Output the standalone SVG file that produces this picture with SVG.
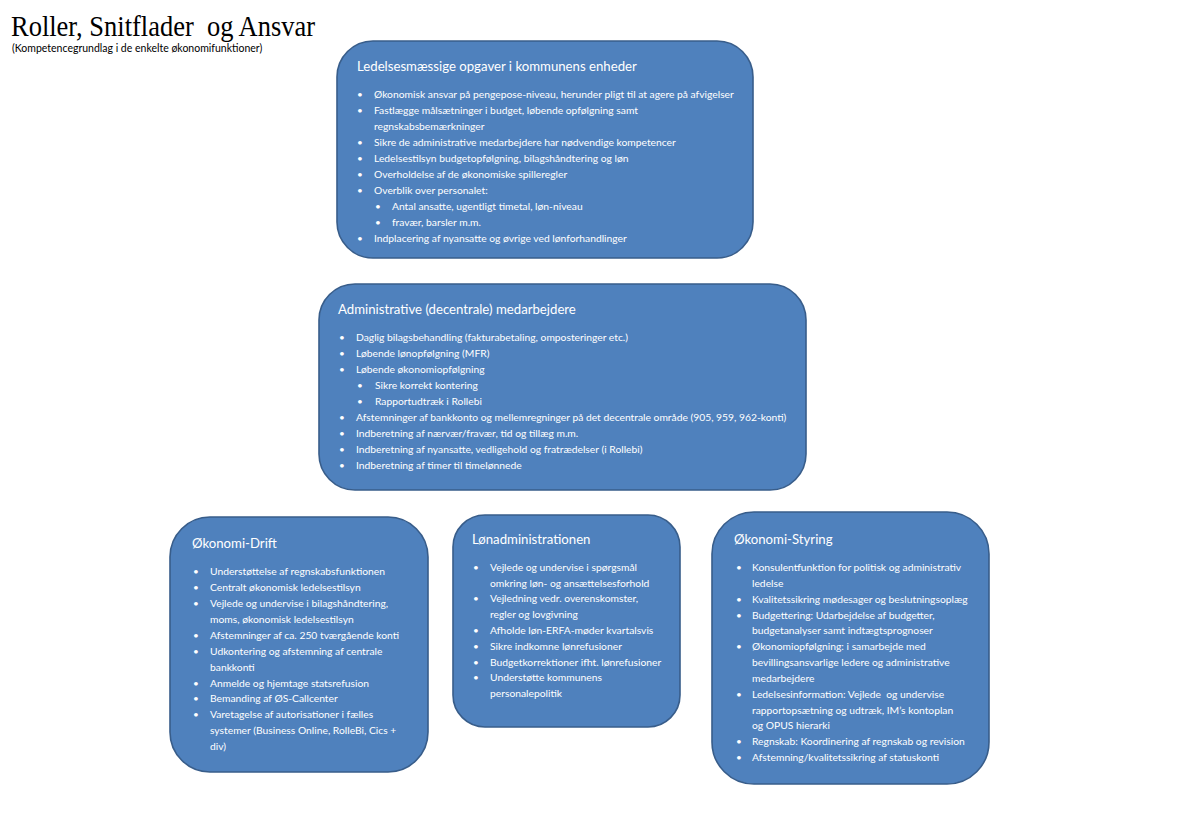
<svg xmlns="http://www.w3.org/2000/svg" width="1186" height="813" viewBox="0 0 1186 813">
<style>
.box{fill:#4f81bd;stroke:#385d8a;stroke-width:1.6}
.t{font-family:Lato,"Open Sans","Liberation Sans",sans-serif;fill:#ffffff}
.h{font-size:13.2px}
.b{font-size:10.3px}
.d{font-size:10px}
.pre{white-space:pre}
</style>
<rect width="1186" height="813" fill="#ffffff"/>
<g id="title">
<text x="11" y="36" font-family="'Liberation Serif','DejaVu Serif',serif" font-size="30" fill="#000" class="pre" textLength="304" lengthAdjust="spacingAndGlyphs">Roller, Snitflader  og Ansvar</text>
<text x="12" y="52" font-family="Lato,'Liberation Sans',sans-serif" font-size="10.5" fill="#000">(Kompetencegrundlag i de enkelte økonomifunktioner)</text>
</g>
<g id="ledelse">
<rect class="box" x="337" y="41" width="416" height="217" rx="36" ry="36"/>
<text class="t h" x="357" y="71">Ledelsesmæssige opgaver i kommunens enheder</text>
<g class="t d">
<text x="357" y="98">•</text><text x="357" y="114">•</text><text x="357" y="145.5">•</text><text x="357" y="161.5">•</text><text x="357" y="177.5">•</text><text x="357" y="193.5">•</text><text x="375" y="209.5">•</text><text x="375" y="225.5">•</text><text x="357" y="241.5">•</text>
</g>
<g class="t b">
<text x="374" y="98">Økonomisk ansvar på pengepose-niveau, herunder pligt til at agere på afvigelser</text>
<text x="374" y="114">Fastlægge målsætninger i budget, løbende opfølgning samt</text>
<text x="374" y="129.5">regnskabsbemærkninger</text>
<text x="374" y="145.5">Sikre de administrative medarbejdere har nødvendige kompetencer</text>
<text x="374" y="161.5">Ledelsestilsyn budgetopfølgning, bilagshåndtering og løn</text>
<text x="374" y="177.5">Overholdelse af de økonomiske spilleregler</text>
<text x="374" y="193.5">Overblik over personalet:</text>
<text x="392" y="209.5">Antal ansatte, ugentligt timetal, løn-niveau</text>
<text x="392" y="225.5">fravær, barsler m.m.</text>
<text x="374" y="241.5">Indplacering af nyansatte og øvrige ved lønforhandlinger</text>
</g>
</g>
<g id="administrative">
<rect class="box" x="319" y="284" width="487" height="206" rx="36" ry="36"/>
<text class="t h" x="338" y="314">Administrative (decentrale) medarbejdere</text>
<g class="t d">
<text x="339" y="341">•</text><text x="339" y="357">•</text><text x="339" y="373">•</text><text x="357" y="389">•</text><text x="357" y="405">•</text><text x="339" y="421">•</text><text x="339" y="437">•</text><text x="339" y="453">•</text><text x="339" y="469">•</text>
</g>
<g class="t b">
<text x="356" y="341">Daglig bilagsbehandling (fakturabetaling, omposteringer etc.)</text>
<text x="356" y="357">Løbende lønopfølgning (MFR)</text>
<text x="356" y="373">Løbende økonomiopfølgning</text>
<text x="375" y="389">Sikre korrekt kontering</text>
<text x="375" y="405">Rapportudtræk i Rollebi</text>
<text x="356" y="421">Afstemninger af bankkonto og mellemregninger på det decentrale område (905, 959, 962-konti)</text>
<text x="356" y="437">Indberetning af nærvær/fravær, tid og tillæg m.m.</text>
<text x="356" y="453">Indberetning af nyansatte, vedligehold og fratrædelser (i Rollebi)</text>
<text x="356" y="469">Indberetning af timer til timelønnede</text>
</g>
</g>
<g id="okonomi-drift">
<rect class="box" x="170" y="517" width="258" height="255" rx="40" ry="40"/>
<text class="t h" x="192" y="548">Økonomi-Drift</text>
<g class="t d">
<text x="193" y="575">•</text><text x="193" y="591">•</text><text x="193" y="607">•</text><text x="193" y="639">•</text><text x="193" y="655">•</text><text x="193" y="686.5">•</text><text x="193" y="702">•</text><text x="193" y="718">•</text>
</g>
<g class="t b">
<text x="210" y="575">Understøttelse af regnskabsfunktionen</text>
<text x="210" y="591">Centralt økonomisk ledelsestilsyn</text>
<text x="210" y="607">Vejlede og undervise i bilagshåndtering,</text>
<text x="210" y="623">moms, økonomisk ledelsestilsyn</text>
<text x="210" y="639">Afstemninger af ca. 250 tværgående konti</text>
<text x="210" y="655">Udkontering og afstemning af centrale</text>
<text x="210" y="670.5">bankkonti</text>
<text x="210" y="686.5">Anmelde og hjemtage statsrefusion</text>
<text x="210" y="702">Bemanding af ØS-Callcenter</text>
<text x="210" y="718">Varetagelse af autorisationer i fælles</text>
<text x="210" y="734">systemer (Business Online, RolleBi, Cics +</text>
<text x="210" y="749.5">div)</text>
</g>
</g>
<g id="lonadministrationen">
<rect class="box" x="453" y="515" width="227" height="212" rx="32" ry="32"/>
<text class="t h" x="472" y="543.5">Lønadministrationen</text>
<g class="t d">
<text x="473" y="570.5">•</text><text x="473" y="602">•</text><text x="473" y="634">•</text><text x="473" y="649.5">•</text><text x="473" y="665.5">•</text><text x="473" y="681">•</text>
</g>
<g class="t b">
<text x="490" y="570.5">Vejlede og undervise i spørgsmål</text>
<text x="490" y="586.5">omkring løn- og ansættelsesforhold</text>
<text x="490" y="602">Vejledning vedr. overenskomster,</text>
<text x="490" y="618">regler og lovgivning</text>
<text x="490" y="634">Afholde løn-ERFA-møder kvartalsvis</text>
<text x="490" y="649.5">Sikre indkomne lønrefusioner</text>
<text x="490" y="665.5">Budgetkorrektioner ifht. lønrefusioner</text>
<text x="490" y="681">Understøtte kommunens</text>
<text x="490" y="697">personalepolitik</text>
</g>
</g>
<g id="okonomi-styring">
<rect class="box" x="712" y="512" width="277" height="272" rx="42" ry="42"/>
<text class="t h" x="734" y="544">Økonomi-Styring</text>
<g class="t d">
<text x="736" y="571">•</text><text x="736" y="602.5">•</text><text x="736" y="619">•</text><text x="736" y="650">•</text><text x="736" y="697.5">•</text><text x="736" y="745">•</text><text x="736" y="760.5">•</text>
</g>
<g class="t b">
<text x="752" y="571">Konsulentfunktion for politisk og administrativ</text>
<text x="752" y="587">ledelse</text>
<text x="752" y="602.5">Kvalitetssikring mødesager og beslutningsoplæg</text>
<text x="752" y="619">Budgettering: Udarbejdelse af budgetter,</text>
<text x="752" y="634">budgetanalyser samt indtægtsprognoser</text>
<text x="752" y="650">Økonomiopfølgning: i samarbejde med</text>
<text x="752" y="666">bevillingsansvarlige ledere og administrative</text>
<text x="752" y="682">medarbejdere</text>
<text x="752" y="697.5" class="pre">Ledelsesinformation: Vejlede  og undervise</text>
<text x="752" y="713.5">rapportopsætning og udtræk, IM’s kontoplan</text>
<text x="752" y="729">og OPUS hierarki</text>
<text x="752" y="745">Regnskab: Koordinering af regnskab og revision</text>
<text x="752" y="760.5">Afstemning/kvalitetssikring af statuskonti</text>
</g>
</g>
</svg>
